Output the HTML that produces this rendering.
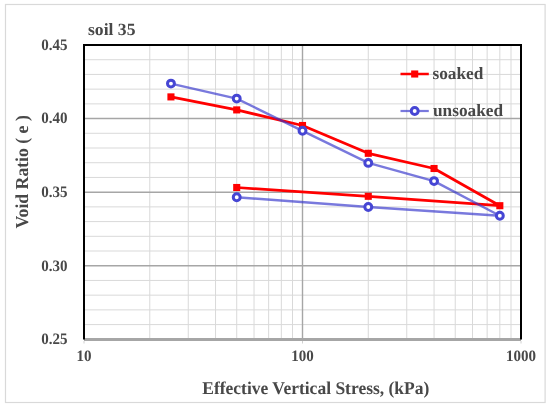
<!DOCTYPE html>
<html><head><meta charset="utf-8"><style>
html,body{margin:0;padding:0;background:#fff;}
svg{display:block;will-change:transform;} text{text-rendering:geometricPrecision;}
</style></head><body>
<svg width="550" height="407" viewBox="0 0 550 407">
<rect x="5.5" y="4.5" width="539.6" height="398" fill="#fff" stroke="#d9d9d9" stroke-width="1.2"/>
<line x1="149.78" y1="45.0" x2="149.78" y2="339.3" stroke="#d9d9d9" stroke-width="1"/>
<line x1="188.25" y1="45.0" x2="188.25" y2="339.3" stroke="#d9d9d9" stroke-width="1"/>
<line x1="215.55" y1="45.0" x2="215.55" y2="339.3" stroke="#d9d9d9" stroke-width="1"/>
<line x1="236.72" y1="45.0" x2="236.72" y2="339.3" stroke="#d9d9d9" stroke-width="1"/>
<line x1="254.03" y1="45.0" x2="254.03" y2="339.3" stroke="#d9d9d9" stroke-width="1"/>
<line x1="268.65" y1="45.0" x2="268.65" y2="339.3" stroke="#d9d9d9" stroke-width="1"/>
<line x1="281.33" y1="45.0" x2="281.33" y2="339.3" stroke="#d9d9d9" stroke-width="1"/>
<line x1="292.50" y1="45.0" x2="292.50" y2="339.3" stroke="#d9d9d9" stroke-width="1"/>
<line x1="368.28" y1="45.0" x2="368.28" y2="339.3" stroke="#d9d9d9" stroke-width="1"/>
<line x1="406.75" y1="45.0" x2="406.75" y2="339.3" stroke="#d9d9d9" stroke-width="1"/>
<line x1="434.05" y1="45.0" x2="434.05" y2="339.3" stroke="#d9d9d9" stroke-width="1"/>
<line x1="455.22" y1="45.0" x2="455.22" y2="339.3" stroke="#d9d9d9" stroke-width="1"/>
<line x1="472.53" y1="45.0" x2="472.53" y2="339.3" stroke="#d9d9d9" stroke-width="1"/>
<line x1="487.15" y1="45.0" x2="487.15" y2="339.3" stroke="#d9d9d9" stroke-width="1"/>
<line x1="499.83" y1="45.0" x2="499.83" y2="339.3" stroke="#d9d9d9" stroke-width="1"/>
<line x1="511.00" y1="45.0" x2="511.00" y2="339.3" stroke="#d9d9d9" stroke-width="1"/>
<line x1="84.0" y1="59.72" x2="521.0" y2="59.72" stroke="#d9d9d9" stroke-width="1"/>
<line x1="84.0" y1="74.43" x2="521.0" y2="74.43" stroke="#d9d9d9" stroke-width="1"/>
<line x1="84.0" y1="89.15" x2="521.0" y2="89.15" stroke="#d9d9d9" stroke-width="1"/>
<line x1="84.0" y1="103.86" x2="521.0" y2="103.86" stroke="#d9d9d9" stroke-width="1"/>
<line x1="84.0" y1="133.29" x2="521.0" y2="133.29" stroke="#d9d9d9" stroke-width="1"/>
<line x1="84.0" y1="148.00" x2="521.0" y2="148.00" stroke="#d9d9d9" stroke-width="1"/>
<line x1="84.0" y1="162.72" x2="521.0" y2="162.72" stroke="#d9d9d9" stroke-width="1"/>
<line x1="84.0" y1="177.44" x2="521.0" y2="177.44" stroke="#d9d9d9" stroke-width="1"/>
<line x1="84.0" y1="206.87" x2="521.0" y2="206.87" stroke="#d9d9d9" stroke-width="1"/>
<line x1="84.0" y1="221.58" x2="521.0" y2="221.58" stroke="#d9d9d9" stroke-width="1"/>
<line x1="84.0" y1="236.30" x2="521.0" y2="236.30" stroke="#d9d9d9" stroke-width="1"/>
<line x1="84.0" y1="251.01" x2="521.0" y2="251.01" stroke="#d9d9d9" stroke-width="1"/>
<line x1="84.0" y1="280.44" x2="521.0" y2="280.44" stroke="#d9d9d9" stroke-width="1"/>
<line x1="84.0" y1="295.16" x2="521.0" y2="295.16" stroke="#d9d9d9" stroke-width="1"/>
<line x1="84.0" y1="309.87" x2="521.0" y2="309.87" stroke="#d9d9d9" stroke-width="1"/>
<line x1="84.0" y1="324.58" x2="521.0" y2="324.58" stroke="#d9d9d9" stroke-width="1"/>
<line x1="302.50" y1="45.0" x2="302.50" y2="339.3" stroke="#a6a6a6" stroke-width="1.4"/>
<line x1="84.0" y1="118.58" x2="521.0" y2="118.58" stroke="#a6a6a6" stroke-width="1.5"/>
<line x1="84.0" y1="192.15" x2="521.0" y2="192.15" stroke="#a6a6a6" stroke-width="1.5"/>
<line x1="84.0" y1="265.73" x2="521.0" y2="265.73" stroke="#a6a6a6" stroke-width="1.5"/>
<line x1="84.0" y1="339.5" x2="521.0" y2="339.5" stroke="#a6a6a6" stroke-width="3"/>
<line x1="84.00" y1="341" x2="84.00" y2="343.5" stroke="#d0d0d0" stroke-width="1"/>
<line x1="302.50" y1="341" x2="302.50" y2="343.5" stroke="#d0d0d0" stroke-width="1"/>
<line x1="521.00" y1="341" x2="521.00" y2="343.5" stroke="#d0d0d0" stroke-width="1"/>
<path d="M84.0,339.6 L84.0,45.0 L521.0,45.0 L521.0,339.6" fill="none" stroke="#000" stroke-width="2"/>
<polyline points="170.95,96.90 236.72,109.90 302.50,125.50 368.28,153.30 434.05,168.50 499.83,205.70 368.28,196.30 236.72,187.50" fill="none" stroke="#ff0000" stroke-opacity="1" stroke-width="2.75" stroke-linejoin="round"/>
<polyline points="170.95,83.60 236.72,98.60 302.50,130.80 368.28,162.90 434.05,181.10 499.83,215.80 368.28,207.00 236.72,197.30" fill="none" stroke="#3434cc" stroke-opacity="0.66" stroke-width="2.4" stroke-linejoin="round"/>
<rect x="167.40" y="93.35" width="7.1" height="7.1" fill="#ff0000"/>
<rect x="233.17" y="106.35" width="7.1" height="7.1" fill="#ff0000"/>
<rect x="298.95" y="121.95" width="7.1" height="7.1" fill="#ff0000"/>
<rect x="364.73" y="149.75" width="7.1" height="7.1" fill="#ff0000"/>
<rect x="430.50" y="164.95" width="7.1" height="7.1" fill="#ff0000"/>
<rect x="496.28" y="202.15" width="7.1" height="7.1" fill="#ff0000"/>
<rect x="364.73" y="192.75" width="7.1" height="7.1" fill="#ff0000"/>
<rect x="233.17" y="183.95" width="7.1" height="7.1" fill="#ff0000"/>
<circle cx="170.95" cy="83.60" r="3.45" fill="#fff" stroke="#4646d4" stroke-width="3"/>
<circle cx="236.72" cy="98.60" r="3.45" fill="#fff" stroke="#4646d4" stroke-width="3"/>
<circle cx="302.50" cy="130.80" r="3.45" fill="#fff" stroke="#4646d4" stroke-width="3"/>
<circle cx="368.28" cy="162.90" r="3.45" fill="#fff" stroke="#4646d4" stroke-width="3"/>
<circle cx="434.05" cy="181.10" r="3.45" fill="#fff" stroke="#4646d4" stroke-width="3"/>
<circle cx="499.83" cy="215.80" r="3.45" fill="#fff" stroke="#4646d4" stroke-width="3"/>
<circle cx="368.28" cy="207.00" r="3.45" fill="#fff" stroke="#4646d4" stroke-width="3"/>
<circle cx="236.72" cy="197.30" r="3.45" fill="#fff" stroke="#4646d4" stroke-width="3"/>
<line x1="400.5" y1="74" x2="428.8" y2="74" stroke="#ff0000" stroke-width="2.5"/>
<rect x="411.15" y="70.45" width="7.1" height="7.1" fill="#ff0000"/>
<line x1="400.5" y1="111" x2="428.8" y2="111" stroke="#3434cc" stroke-opacity="0.66" stroke-width="2.2"/>
<circle cx="414.7" cy="111" r="3.45" fill="#fff" stroke="#4646d4" stroke-width="3"/>
<text transform="translate(432.50,79.30)" text-anchor="start" style="font-family:'Liberation Serif',serif;font-weight:bold;fill:#484848;font-size:17.3px">soaked</text>
<text transform="translate(433.00,116.40)" text-anchor="start" style="font-family:'Liberation Serif',serif;font-weight:bold;fill:#484848;font-size:17.3px">unsoaked</text>
<text transform="translate(88.00,34.60) scale(1.025,1.0)" text-anchor="start" style="font-family:'Liberation Serif',serif;font-weight:bold;fill:#484848;font-size:17.2px">soil 35</text>
<text transform="translate(67.50,50.00) scale(1.0,1.06)" text-anchor="end" style="font-family:'Liberation Serif',serif;font-weight:bold;fill:#484848;font-size:15px">0.45</text>
<text transform="translate(67.50,122.78) scale(1.0,1.06)" text-anchor="end" style="font-family:'Liberation Serif',serif;font-weight:bold;fill:#484848;font-size:15px">0.40</text>
<text transform="translate(67.50,197.15) scale(1.0,1.06)" text-anchor="end" style="font-family:'Liberation Serif',serif;font-weight:bold;fill:#484848;font-size:15px">0.35</text>
<text transform="translate(67.50,270.73) scale(1.0,1.06)" text-anchor="end" style="font-family:'Liberation Serif',serif;font-weight:bold;fill:#484848;font-size:15px">0.30</text>
<text transform="translate(67.50,344.30) scale(1.0,1.06)" text-anchor="end" style="font-family:'Liberation Serif',serif;font-weight:bold;fill:#484848;font-size:15px">0.25</text>
<text transform="translate(84.00,361.00) scale(1.0,1.06)" text-anchor="middle" style="font-family:'Liberation Serif',serif;font-weight:bold;fill:#484848;font-size:15px">10</text>
<text transform="translate(302.50,361.00) scale(1.0,1.06)" text-anchor="middle" style="font-family:'Liberation Serif',serif;font-weight:bold;fill:#484848;font-size:15px">100</text>
<text transform="translate(521.00,361.00) scale(1.0,1.06)" text-anchor="middle" style="font-family:'Liberation Serif',serif;font-weight:bold;fill:#484848;font-size:15px">1000</text>
<text transform="translate(315.80,394.30) scale(1.0,1.025)" text-anchor="middle" style="font-family:'Liberation Serif',serif;font-weight:bold;fill:#484848;font-size:17.5px">Effective Vertical Stress, (kPa)</text>
<text transform="translate(28.20,171.90) rotate(-90) scale(1.0,1.03)" text-anchor="middle" style="font-family:'Liberation Serif',serif;font-weight:bold;fill:#484848;font-size:17.7px">Void Ratio ( e )</text>
</svg>
</body></html>
